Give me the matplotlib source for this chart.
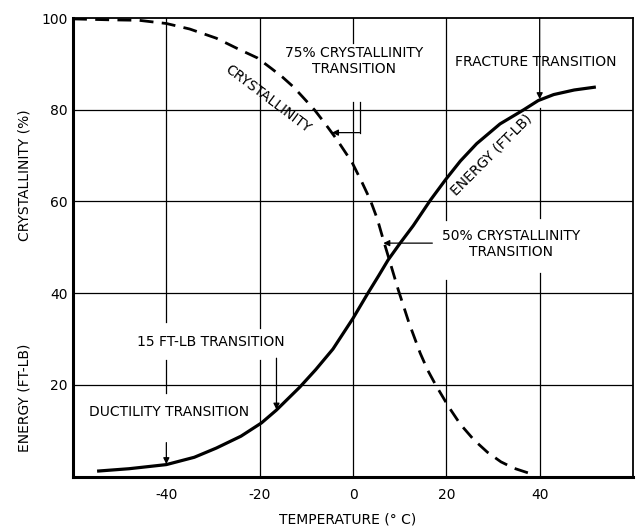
import matplotlib
matplotlib.use("Agg")
import matplotlib.pyplot as plt

# Crystallinity (%) vs temperature (deg C), dashed curve
cryst_temp = [-60, -52, -45.9, -40, -35, -29.3, -24.5, -20.5, -17.5, -15.1,
              -12.8, -10.8, -8.2, -6.0, -3.4, -0.2, 2.0, 3.7, 5.2, 6.5,
              8.0, 9.7, 12.0, 14.4, 16.0, 17.7, 20.5, 23.0, 25.9, 28.8,
              31.7, 34.5, 37.5, 38.5]
cryst_val = [99.8, 99.6, 99.5, 98.8, 97.6, 95.6, 93.2, 91.3, 89.0, 87.1,
             85.0, 82.8, 79.9, 77.0, 73.4, 68.5, 64.0, 60.3, 56.2, 51.6,
             46.5, 40.7, 33.5, 26.9, 23.2, 20.0, 15.2, 11.4, 8.0, 5.3,
             3.2, 1.8, 0.8, 0.5]

# Energy (ft-lb) vs temperature (deg C), solid curve
energy_temp = [-54.5, -48, -40, -34, -29.3, -24, -19.6, -16.4, -11.4, -8.0,
               -4.3, 0.0, 3.2, 5.5, 7.5, 10.1, 12.9, 16.6, 19.8, 23.0,
               26.5, 31.5, 36.6, 39.7, 43.0, 47.4, 51.7]
energy_val = [1.2, 1.7, 2.6, 4.2, 6.2, 8.8, 11.7, 14.5, 19.5, 23.3,
              27.8, 34.5, 40.0, 43.8, 47.2, 50.9, 54.7, 60.3, 64.7, 68.8,
              72.6, 76.9, 80.0, 82.0, 83.3, 84.3, 84.9]

x_ticks = [-40, -20, 0, 20, 40]
y_ticks = [20, 40, 60, 80, 100]

FONT = "DejaVu Sans"
FS = 10

fig = plt.figure(figsize=(6.36, 5.31), dpi=100)
ax = fig.add_axes([0.1148, 0.1026, 0.8805, 0.8635])
ax.set_xlim(-60, 60)
ax.set_ylim(0, 100)

# horizontal grid lines (full width)
for y in [20, 40, 60, 80]:
    ax.axhline(y, color="black", lw=0.9, zorder=1)

# vertical grid lines, broken where the labels sit
vsegs = {
    -40: [(33.8, 100), (25.5, 18.3)],
    -20: [(32.4, 100), (0, 25.5)],
    0: [(94.6, 100), (0, 81.6)],
    20: [(56.0, 100), (0, 42.9)],
    40: [(56.4, 80.4), (0, 44.3)],
}
for x, segs in vsegs.items():
    for y0, y1 in segs:
        ax.plot([x, x], [y0, y1], color="black", lw=0.9, zorder=1)

ax.plot(cryst_temp, cryst_val, color="black", lw=2.0, dashes=(5, 3),
        zorder=3, solid_capstyle="butt")
ax.plot(energy_temp, energy_val, color="black", lw=2.3, zorder=3)

arrow = dict(arrowstyle="-|>", color="black", lw=0.9, mutation_scale=9,
             shrinkA=0, shrinkB=0)

# annotation arrows
ax.annotate("", xy=(40, 82.3), xytext=(40, 100), arrowprops=arrow)
ax.annotate("", xy=(-16.4, 14.6), xytext=(-16.4, 25.8), arrowprops=arrow)
ax.annotate("", xy=(-40, 2.7), xytext=(-40, 7.4), arrowprops=arrow)
ax.annotate("", xy=(6.5, 50.9), xytext=(17.0, 50.9), arrowprops=arrow)
ax.plot([1.4, 1.4], [81.6, 75.0], color="black", lw=0.9, zorder=2)
ax.annotate("", xy=(-4.5, 75.0), xytext=(1.4, 75.0), arrowprops=arrow)

# text labels
txt = dict(fontsize=FS, family=FONT, ha="center", va="center", zorder=4)
ax.text(0.2, 90.6, "75% CRYSTALLINITY\nTRANSITION", linespacing=1.2, **txt)
ax.text(39.2, 90.4, "FRACTURE TRANSITION", **txt)
ax.text(33.8, 50.7, "50% CRYSTALLINITY\nTRANSITION", linespacing=1.2, **txt)
ax.text(-30.4, 29.3, "15 FT-LB TRANSITION", **txt)
ax.text(-39.4, 14.1, "DUCTILITY TRANSITION", **txt)
ax.text(-18.3, 82.3, "CRYSTALLINITY", rotation=-37, rotation_mode="anchor", **txt)
ax.text(29.7, 70.1, "ENERGY (FT-LB)", rotation=45, rotation_mode="anchor", **txt)

# axes styling
ax.set_xticks(x_ticks)
ax.set_xticklabels([str(v) for v in x_ticks], family=FONT, fontsize=FS)
ax.set_yticks(y_ticks)
ax.set_yticklabels([str(v) for v in y_ticks], family=FONT, fontsize=FS)
ax.tick_params(length=0, pad=8)
ax.tick_params(axis="y", pad=4)
for side in ["left", "bottom"]:
    ax.spines[side].set_linewidth(2.2)
for side in ["top", "right"]:
    ax.spines[side].set_linewidth(1.3)

fig.text(0.039, 0.670, "CRYSTALLINITY (%)", rotation=90, ha="center",
         va="center", fontsize=FS, family=FONT)
fig.text(0.039, 0.250, "ENERGY (FT-LB)", rotation=90, ha="center",
         va="center", fontsize=FS, family=FONT)
fig.text(0.547, 0.021, "TEMPERATURE (° C)", ha="center", va="center",
         fontsize=FS, family=FONT)

fig.savefig("out.png", dpi=100)
